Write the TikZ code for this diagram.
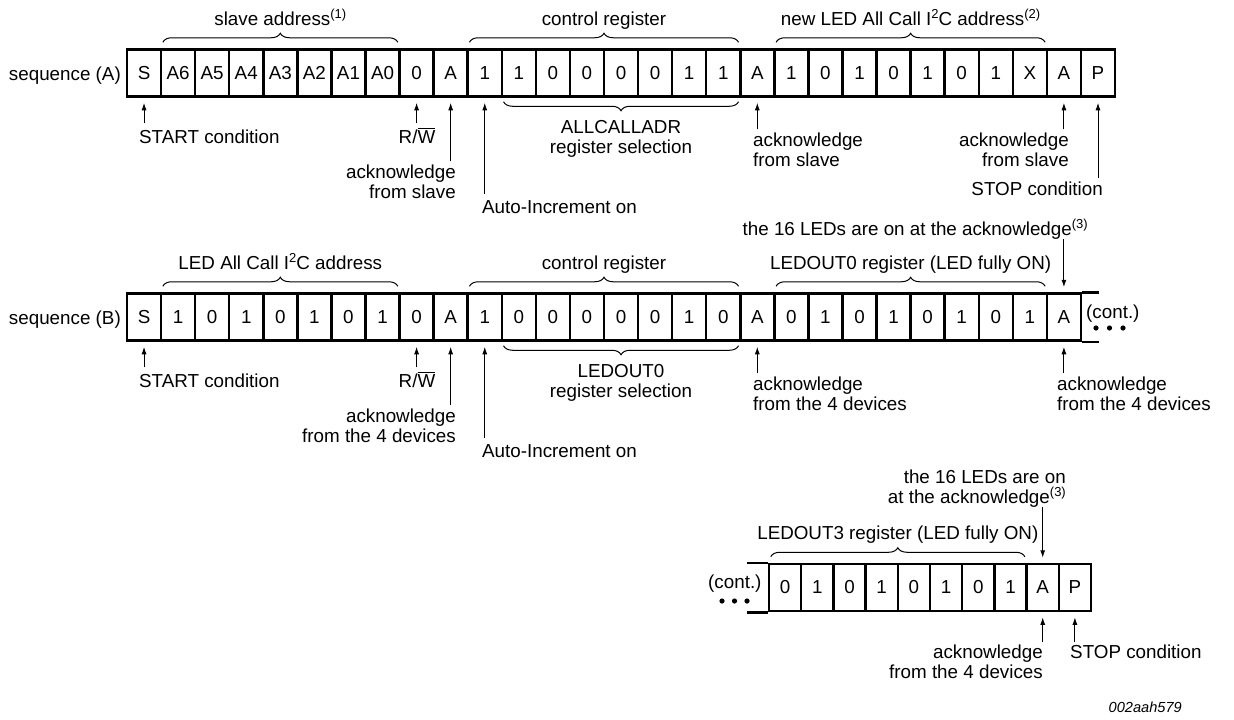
\documentclass[tikz,border=0pt]{standalone}
\usepackage{fontspec}
\setmainfont{Liberation Sans}
\usetikzlibrary{arrows.meta,positioning,decorations.pathreplacing}
\newcommand{\supnote}[1]{\raisebox{7pt}{\fontsize{13}{13}\selectfont #1}}
\newcommand{\rwbar}{R/$\overline{\hbox{W}}$}

\begin{document}
\begin{tikzpicture}[x=1pt,y=-1pt,font=\fontsize{18.8}{20.5}\selectfont]
	\tikzstyle{cell}
	  =[draw, line width=2.5pt, rectangle, minimum width=34.07pt,
	  minimum height=47pt, inner sep=0pt]
	\tikzstyle{cell-s}
	  =[cell, minimum width=32.2pt]
	\tikzstyle{brc}
	  =[decorate, decoration={brace, amplitude=9pt}, line width=1pt]
	\tikzstyle{brc-lbl}
	  =[midway, anchor=base, yshift=17pt, inner sep=0pt]
	\tikzstyle{brc-low}
	  =[midway, anchor=north, yshift=-18pt, inner sep=0pt, align=center]
	\tikzstyle{ptr}
	  =[-{Latex[length=7.5pt,width=5pt]}, line width=1pt, shorten >=5pt]
	\tikzstyle{note}
	  =[inner sep=0pt]

	\useasboundingbox (0,0) rectangle (1234,720);

	% sequence (A)
	\node[note, anchor=base east] (seqA) at (121,80) {sequence (A)};
	\foreach \t [count=\i] in {S,A6,A5,A4,A3,A2,A1,A0,0,A,1,1,0,0,0,0,1,1,A,1,0,1,0,1,0,1,X,A,P}
	  \node[cell] (a\i) at ({127+(\i-0.5)*34.07},73) {\t};

	\draw[brc] ([xshift=3pt,yshift=6pt]a2.north west)
	  -- ([xshift=-3pt,yshift=6pt]a8.north east)
	  node[brc-lbl] {slave address\supnote{(1)}};
	\draw[brc] ([xshift=3pt,yshift=6pt]a11.north west)
	  -- ([xshift=-3pt,yshift=6pt]a18.north east)
	  node[brc-lbl] {control register};
	\draw[brc] ([xshift=3pt,yshift=6pt]a20.north west)
	  -- ([xshift=-3pt,yshift=6pt]a27.north east)
	  node[brc-lbl] {new LED All Call I\supnote{2}C address\supnote{(2)}};
	\draw[brc] ([xshift=-3pt,yshift=-4pt]a18.south east)
	  -- ([xshift=3pt,yshift=-4pt]a12.south west)
	  node[brc-low] {ALLCALLADR\\register selection};

	\coordinate (ua1) at ([yshift=-25.5pt]a1.south);
	\coordinate (ua9) at ([yshift=-25.5pt]a9.south);
	\coordinate (ua10) at ([yshift=-63.5pt]a10.south);
	\coordinate (ua11) at ([yshift=-96.5pt]a11.south);
	\coordinate (ua19) at ([yshift=-31.5pt]a19.south);
	\coordinate (ua28) at ([yshift=-31.5pt]a28.south);
	\coordinate (ua29) at ([yshift=-80.5pt]a29.south);
	\foreach \i in {1,9,10,11,19,28,29}
	  \draw[ptr] (ua\i) -- (a\i);

	\node[note, anchor=base west] (startA) at (139,143) {START condition};
	\node[note, anchor=base] (rwA) at (417,143) {\rwbar};
	\node[note, anchor=north east, align=right] (ackA1)
	  at (456,164.5) {acknowledge\\from slave};
	\node[note, anchor=base west] (autoA) at (482,213) {Auto-Increment on};
	\node[note, anchor=north west, align=left] (ackA2)
	  at (753,132.5) {acknowledge\\from slave};
	\node[note, anchor=north east, align=right] (ackA3)
	  at (1069,132.5) {acknowledge\\from slave};
	\node[note, anchor=base east] (stopA) at (1103,195) {STOP condition};

	% sequence (B)
	\node[note, anchor=base east] (seqB) at (121,324) {sequence (B)};
	\foreach \t [count=\i] in {S,1,0,1,0,1,0,1,0,A,1,0,0,0,0,0,1,0,A,0,1,0,1,0,1,0,1,A}
	  \node[cell] (b\i) at ({127+(\i-0.5)*34.07},317) {\t};
	\draw[line width=2.5pt] (b28.north east) -- ++(17,0);
	\draw[line width=2.5pt] (b28.south east) -- ++(17,0);
	\node[note, anchor=base west] (contB) at (1086,318) {(cont.)};
	\foreach \x in {1096,1109.5,1123}
	  \fill (\x,328) circle (2.6pt);

	\draw[brc] ([xshift=3pt,yshift=6pt]b2.north west)
	  -- ([xshift=-3pt,yshift=6pt]b8.north east)
	  node[brc-lbl] {LED All Call I\supnote{2}C address};
	\draw[brc] ([xshift=3pt,yshift=6pt]b11.north west)
	  -- ([xshift=-3pt,yshift=6pt]b18.north east)
	  node[brc-lbl] {control register};
	\draw[brc] ([xshift=3pt,yshift=6pt]b20.north west)
	  -- ([xshift=-3pt,yshift=6pt]b27.north east)
	  node[brc-lbl] {LEDOUT0 register (LED fully ON)};
	\draw[brc] ([xshift=-3pt,yshift=-4pt]b18.south east)
	  -- ([xshift=3pt,yshift=-4pt]b12.south west)
	  node[brc-low] {LEDOUT0\\register selection};

	\node[note, anchor=base east] (onB) at (1088,235)
	  {the 16 LEDs are on at the acknowledge\supnote{(3)}};
	\coordinate (db28) at ([yshift=53.5pt]b28.north);
	\draw[ptr] (db28) -- (b28);

	\coordinate (ub1) at ([yshift=-25.5pt]b1.south);
	\coordinate (ub9) at ([yshift=-25.5pt]b9.south);
	\coordinate (ub10) at ([yshift=-63.5pt]b10.south);
	\coordinate (ub11) at ([yshift=-96.5pt]b11.south);
	\coordinate (ub19) at ([yshift=-31.5pt]b19.south);
	\coordinate (ub28) at ([yshift=-31.5pt]b28.south);
	\foreach \i in {1,9,10,11,19,28}
	  \draw[ptr] (ub\i) -- (b\i);

	\node[note, anchor=base west] (startB) at (139,387) {START condition};
	\node[note, anchor=base] (rwB) at (417,387) {\rwbar};
	\node[note, anchor=north east, align=right] (ackB1)
	  at (456,408.5) {acknowledge\\from the 4 devices};
	\node[note, anchor=base west] (autoB) at (482,457) {Auto-Increment on};
	\node[note, anchor=north west, align=left] (ackB2)
	  at (753,376.5) {acknowledge\\from the 4 devices};
	\node[note, anchor=north west, align=left] (ackB3)
	  at (1057,376.5) {acknowledge\\from the 4 devices};

	% continuation
	\foreach \t [count=\i] in {0,1,0,1,0,1,0,1,A,P}
	  \node[cell-s] (c\i) at ({769+(\i-0.5)*32.2},587.5) {\t};
	\draw[line width=2.5pt] (c1.north west) -- ++(-21,0);
	\draw[line width=2.5pt] (c1.south west) -- ++(-21,0);
	\node[note, anchor=base west] (contC) at (708,588) {(cont.)};
	\foreach \x in {722,734.5,747}
	  \fill (\x,601) circle (2.6pt);

	\draw[brc] ([xshift=3pt,yshift=6pt]c1.north west)
	  -- ([xshift=-3pt,yshift=6pt]c8.north east)
	  node[brc-lbl] {LEDOUT3 register (LED fully ON)};

	\node[note, anchor=north east, align=right] (onC) at (1066,469.5)
	  {the 16 LEDs are on\\at the acknowledge\supnote{(3)}};
	\coordinate (dc9) at ([yshift=56pt]c9.north);
	\draw[ptr] (dc9) -- (c9);

	\coordinate (uc9) at ([yshift=-30pt]c9.south);
	\coordinate (uc10) at ([yshift=-30pt]c10.south);
	\foreach \i in {9,10}
	  \draw[ptr] (uc\i) -- (c\i);
	\node[note, anchor=north east, align=right] (ackC)
	  at (1043,644.5) {acknowledge\\from the 4 devices};
	\node[note, anchor=base west] (stopC) at (1070,658) {STOP condition};

	\node[note, anchor=base east, font=\fontsize{14.6}{16}\selectfont\itshape]
	  (fig) at (1182,712) {002aah579};
\end{tikzpicture}
\end{document}
